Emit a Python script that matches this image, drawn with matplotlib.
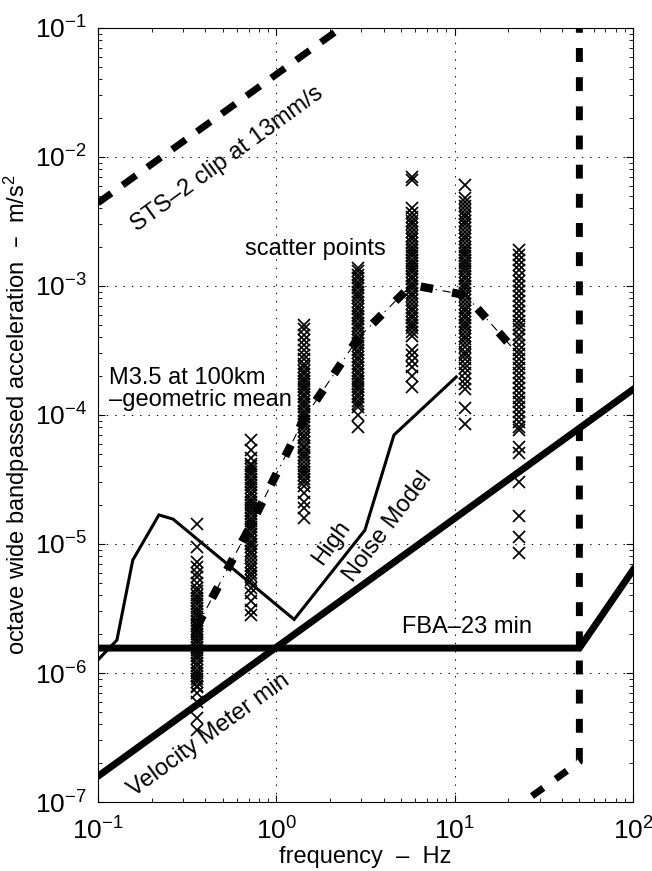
import matplotlib
matplotlib.use('Agg')
import matplotlib.pyplot as plt
from matplotlib.ticker import NullFormatter

plt.rcParams['font.family'] = ['Liberation Sans', 'DejaVu Sans']
plt.rcParams['mathtext.default'] = 'regular'
plt.rcParams['lines.scale_dashes'] = False

# instrument / noise curves (frequency Hz, acceleration m/s^2)
sts2_f = [0.1, 2.3]
sts2_a = [4.4e-3, 0.1]
sts2_hi_f = [20.0, 50.0, 50.0]
sts2_hi_a = [8.2e-8, 2.05e-7, 0.1]
fba_f = [0.1, 50.0, 100.0]
fba_a = [1.56e-6, 1.56e-6, 6.3e-6]
vel_f = [0.1, 100.0]
vel_a = [1.58e-7, 1.58e-4]
hnm_f = [0.1, 0.128, 0.157, 0.22, 0.264, 1.26, 3.14, 4.57, 10.2]
hnm_a = [1.26e-6, 1.8e-6, 7.5e-6, 1.68e-5, 1.56e-5, 2.6e-6, 1.28e-5, 7.0e-5, 1.97e-4]

# M3.5 at 100 km, geometric mean per octave band
band_f = [0.36, 0.72, 1.44, 2.88, 5.75, 11.5, 23.0]
mean_a = [2.3e-6, 1.4e-5, 9.5e-5, 3.95e-4, 1.02e-3, 8.5e-4, 2.9e-4]

# scatter points per octave band
sc_036 = [1.43e-5, 9.5e-6, 7.2e-6, 6.6e-6, 6.0e-6, 5.5e-6, 5.0e-6, 4.6e-6, 4.3e-6,
          4.0e-6, 3.8e-6, 3.6e-6, 3.4e-6, 3.2e-6, 3.0e-6, 2.85e-6, 2.7e-6, 2.55e-6,
          2.4e-6, 2.3e-6, 2.2e-6, 2.1e-6, 2.0e-6, 1.9e-6, 1.8e-6, 1.7e-6, 1.6e-6,
          1.5e-6, 1.42e-6, 1.35e-6, 1.28e-6, 1.2e-6, 1.13e-6, 1.06e-6, 1.0e-6,
          9.5e-7, 9.0e-7, 8.5e-7, 8.0e-7, 7.8e-7, 7.0e-7, 6.0e-7, 4.5e-7, 3.6e-7]
sc_072 = [6.4e-5, 5.4e-5, 4.6e-5, 4.2e-5, 4.0e-5, 3.8e-5, 3.6e-5, 3.4e-5, 3.2e-5,
          3.0e-5, 2.85e-5, 2.7e-5, 2.55e-5, 2.4e-5, 2.25e-5, 2.1e-5, 2.0e-5, 1.9e-5,
          1.8e-5, 1.7e-5, 1.6e-5, 1.5e-5, 1.42e-5, 1.35e-5, 1.28e-5, 1.2e-5, 1.13e-5,
          1.06e-5, 1.0e-5, 9.4e-6, 8.8e-6, 8.3e-6, 7.8e-6, 7.3e-6, 6.8e-6, 6.4e-6,
          6.0e-6, 5.6e-6, 5.3e-6, 4.6e-6, 4.2e-6, 3.6e-6, 3.1e-6, 2.8e-6]
sc_144 = [5.0e-4, 4.6e-4, 4.2e-4, 3.8e-4, 3.5e-4, 3.2e-4, 2.9e-4, 2.7e-4, 2.5e-4,
          2.35e-4, 2.2e-4, 2.08e-4, 1.95e-4, 1.85e-4, 1.75e-4, 1.65e-4, 1.55e-4,
          1.45e-4, 1.37e-4, 1.29e-4, 1.22e-4, 1.15e-4, 1.08e-4, 1.02e-4, 9.6e-5,
          9.0e-5, 8.5e-5, 8.0e-5, 7.5e-5, 7.0e-5, 6.6e-5, 6.2e-5, 5.8e-5, 5.5e-5,
          5.2e-5, 4.9e-5, 4.6e-5, 4.3e-5, 4.05e-5, 3.8e-5, 3.6e-5, 3.4e-5, 3.2e-5,
          3.0e-5, 2.8e-5, 2.5e-5, 2.1e-5, 1.9e-5, 1.6e-5]
sc_288 = [1.38e-3, 1.3e-3, 1.22e-3, 1.15e-3, 1.08e-3, 1.02e-3, 9.6e-4, 9.0e-4,
          8.5e-4, 8.0e-4, 7.5e-4, 7.0e-4, 6.6e-4, 6.2e-4, 5.8e-4, 5.5e-4, 5.2e-4,
          4.9e-4, 4.6e-4, 4.3e-4, 4.05e-4, 3.8e-4, 3.6e-4, 3.4e-4, 3.2e-4, 3.0e-4,
          2.8e-4, 2.65e-4, 2.5e-4, 2.35e-4, 2.2e-4, 2.08e-4, 1.95e-4, 1.85e-4,
          1.75e-4, 1.65e-4, 1.55e-4, 1.45e-4, 1.37e-4, 1.29e-4, 1.22e-4, 1.15e-4,
          1.0e-4, 8.0e-5]
sc_575 = [7.0e-3, 6.6e-3, 4.0e-3, 3.7e-3, 3.4e-3, 3.2e-3, 3.0e-3, 2.8e-3, 2.6e-3,
          2.45e-3, 2.3e-3, 2.15e-3, 2.0e-3, 1.9e-3, 1.8e-3, 1.7e-3, 1.6e-3, 1.5e-3,
          1.42e-3, 1.35e-3, 1.28e-3, 1.2e-3, 1.13e-3, 1.06e-3, 1.0e-3, 9.4e-4,
          8.8e-4, 8.3e-4, 7.8e-4, 7.3e-4, 6.8e-4, 6.4e-4, 6.0e-4, 5.6e-4, 5.3e-4,
          5.0e-4, 4.7e-4, 4.4e-4, 4.1e-4, 3.2e-4, 2.9e-4, 2.6e-4, 2.35e-4, 2.0e-4,
          1.65e-4]
sc_115 = [6.1e-3, 4.8e-3, 4.5e-3, 4.2e-3, 3.9e-3, 3.6e-3, 3.4e-3, 3.2e-3, 3.0e-3,
          2.8e-3, 2.6e-3, 2.45e-3, 2.3e-3, 2.15e-3, 2.0e-3, 1.9e-3, 1.8e-3, 1.7e-3,
          1.6e-3, 1.5e-3, 1.42e-3, 1.35e-3, 1.28e-3, 1.2e-3, 1.13e-3, 1.06e-3,
          1.0e-3, 9.4e-4, 8.8e-4, 8.3e-4, 7.8e-4, 7.3e-4, 6.8e-4, 6.4e-4, 6.0e-4,
          5.6e-4, 5.3e-4, 5.0e-4, 4.7e-4, 4.4e-4, 4.1e-4, 3.85e-4, 3.6e-4, 3.35e-4,
          3.1e-4, 2.9e-4, 2.7e-4, 2.5e-4, 2.3e-4, 2.1e-4, 1.9e-4, 1.75e-4, 1.6e-4,
          1.13e-4, 8.5e-5]
sc_230 = [1.9e-3, 1.75e-3, 1.6e-3, 1.45e-3, 1.32e-3, 1.2e-3, 1.1e-3, 1.0e-3,
          9.2e-4, 8.4e-4, 7.7e-4, 7.0e-4, 6.4e-4, 5.9e-4, 5.4e-4, 5.0e-4, 4.6e-4,
          4.2e-4, 3.85e-4, 3.5e-4, 3.2e-4, 2.95e-4, 2.7e-4, 2.5e-4, 2.3e-4, 2.1e-4,
          1.93e-4, 1.77e-4, 1.62e-4, 1.48e-4, 1.36e-4, 1.25e-4, 1.15e-4, 1.05e-4,
          9.6e-5, 8.8e-5, 8.1e-5, 7.65e-5, 5.65e-5, 5.1e-5, 3.0e-5, 1.65e-5,
          1.13e-5, 8.5e-6]
scatter_cols = [sc_036, sc_072, sc_144, sc_288, sc_575, sc_115, sc_230]

fig = plt.figure(figsize=(6.52, 8.71), dpi=100)
ax = fig.add_axes([0.150, 0.0792, 0.821, 0.8887])
ax.set_xscale('log')
ax.set_yscale('log')
ax.set_xlim(0.1, 100)
ax.set_ylim(1e-7, 1e-1)

ax.grid(True, which='major', color='k', linestyle=(0, (1, 5)), linewidth=0.7)
ax.minorticks_on()
ax.xaxis.set_minor_formatter(NullFormatter())
ax.yaxis.set_minor_formatter(NullFormatter())
ax.tick_params(which='both', direction='in', top=True, right=True, labelsize=19)
ax.tick_params(axis='x', pad=11)
ax.tick_params(axis='y', pad=8)
ax.tick_params(which='major', length=5)
ax.tick_params(which='minor', length=3)

for f, col in zip(band_f, scatter_cols):
    ax.plot([f] * len(col), col, 'x', color='k', markersize=8, markeredgewidth=1.25, zorder=3)

ax.plot(sts2_f, sts2_a, color='k', lw=5, linestyle=(0, (12, 10)), dash_capstyle='butt', zorder=4)
ax.plot(sts2_hi_f, sts2_hi_a, color='k', lw=5, linestyle=(0, (10, 11)), dash_capstyle='butt', zorder=4)
ax.plot(fba_f, fba_a, color='k', lw=5, solid_joinstyle='miter', zorder=4)
ax.plot(vel_f, vel_a, color='k', lw=5, zorder=4)
ax.plot(hnm_f, hnm_a, color='k', lw=2.2, solid_joinstyle='miter', zorder=4)
ax.plot(band_f, mean_a, color='k', lw=6, linestyle=(0, (9, 14)), dash_capstyle='butt', zorder=5)
ax.plot(band_f, mean_a, color='k', lw=0.8, linestyle=(0, (6, 4, 1, 4)), zorder=5)

fs = 17
ax.text(0.53, 9.6e-3, 'STS–2 clip at 13mm/s', fontsize=fs, rotation=36,
        ha='center', va='center')
ax.text(1.65, 1.94e-3, 'scatter points', fontsize=fs, ha='center', va='center')
ax.text(0.115, 1.59e-4, 'M3.5 at 100km\n–geometric mean', fontsize=fs,
        ha='left', va='center', linespacing=0.95)
ax.text(2.05, 1.02e-5, 'High', fontsize=fs, rotation=54, ha='center', va='center')
ax.text(4.23, 1.36e-5, 'Noise Model', fontsize=fs, rotation=53, ha='center', va='center')
ax.text(11.7, 2.27e-6, 'FBA–23 min', fontsize=fs, ha='center', va='center')
ax.text(0.42, 3.3e-7, 'Velocity Meter min', fontsize=fs, rotation=36,
        ha='center', va='center')

ax.set_xlabel('frequency  –  Hz', fontsize=fs, labelpad=1)
ax.set_ylabel('octave wide bandpassed acceleration  –  m/s$^2$', fontsize=fs, labelpad=2)

fig.savefig('out.png', dpi=100)
